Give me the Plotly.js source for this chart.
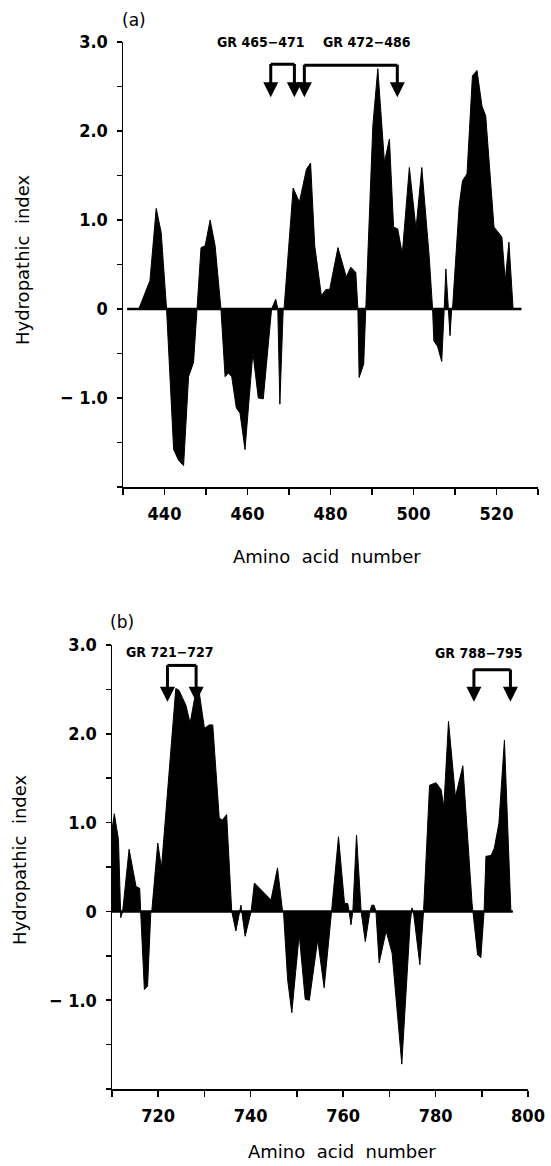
<!DOCTYPE html>
<html>
<head>
<meta charset="utf-8">
<script src="https://cdn.plot.ly/plotly-3.0.1.min.js"></script>
<style>
  html, body { margin: 0; padding: 0; background: #ffffff; }
  #chart { width: 551px; height: 1166px; }
</style>
</head>
<body>
<div id="chart"></div>
<script>
// ---------- Panel (a) data: residue number vs hydropathic index ----------
var aResidue = [431, 433.8, 436.5, 438, 439.2, 440.5, 442.2, 443.4, 444.6, 445.8, 447, 447.8, 448.8, 449.8, 451, 452.2, 453.6, 454.6, 455.4, 456.2, 457.3, 458.2, 459.4, 461.3, 462.6, 463.8, 465.8, 466.8, 467.3, 467.8, 468.6, 468.8, 471, 472.5, 474.2, 475.2, 476.2, 477.8, 478.9, 479.8, 481.8, 483.8, 484.9, 486.1, 486.6, 486.9, 488, 488.5, 490.2, 491.4, 493, 494.2, 495.2, 496.2, 497.3, 499, 500.6, 502, 503.8, 504.6, 504.9, 505.8, 506.8, 507.4, 507.8, 508.4, 508.8, 509.2, 509.4, 511, 511.8, 512.9, 514.2, 515.3, 516.5, 517.4, 519.4, 521.3, 522.1, 523, 524, 526];
var aIndex = [0, 0, 0.32, 1.13, 0.86, 0, -1.58, -1.70, -1.76, -0.76, -0.6, 0, 0.69, 0.71, 1.0, 0.71, 0, -0.76, -0.72, -0.76, -1.11, -1.17, -1.58, -0.49, -1.0, -1.01, 0, 0.11, 0, -1.07, 0, 0, 1.36, 1.2, 1.57, 1.64, 0.71, 0.15, 0.22, 0.22, 0.69, 0.36, 0.47, 0.41, 0, -0.77, -0.62, 0, 2.06, 2.70, 1.65, 1.91, 0.92, 0.90, 0.62, 1.59, 0.90, 1.59, 0.58, 0, -0.36, -0.42, -0.59, 0, 0.45, 0, -0.30, 0, 0, 1.16, 1.44, 1.52, 2.62, 2.68, 2.28, 2.17, 0.92, 0.81, 0.32, 0.75, 0, 0];

// ---------- Panel (b) data ----------
var bResidue = [710, 710.5, 711.4, 711.9, 712.3, 713.7, 715.2, 716, 716.2, 717, 717.7, 718.4, 718.6, 719.9, 720.7, 723.8, 724.5, 726, 726.9, 727.8, 728.7, 730, 731, 731.8, 733.2, 733.9, 734.8, 735.9, 736.8, 737.9, 738.8, 740.1, 740.8, 742.6, 744.4, 745.8, 746.9, 747.1, 748, 748.9, 750.5, 751.8, 752.7, 754.5, 755.9, 757.5, 759, 760.3, 761, 761.3, 761.7, 762.1, 762.9, 763.9, 764.8, 765.8, 766.2, 766.7, 767.1, 767.8, 769.3, 770.6, 772.7, 774.5, 774.9, 775.2, 776.6, 777.4, 778.7, 780.1, 781.2, 781.8, 782.8, 784.3, 785.9, 787.9, 788.1, 789.1, 789.8, 790.5, 790.9, 792, 792.7, 793.7, 794.9, 796.3, 796.7];
var bIndex = [0.92, 1.10, 0.81, -0.07, 0, 0.70, 0.28, 0.26, 0, -0.88, -0.84, 0, 0, 0.77, 0.49, 2.51, 2.49, 2.32, 2.12, 2.38, 2.53, 2.06, 2.10, 2.10, 1.05, 1.03, 1.09, 0, -0.22, 0.07, -0.28, 0, 0.32, 0.22, 0.13, 0.49, 0, 0, -0.77, -1.14, -0.26, -0.99, -1.0, -0.32, -0.86, 0, 0.84, 0.09, 0.09, 0, -0.15, 0, 0.86, 0, -0.34, 0, 0.07, 0.07, 0, -0.58, -0.22, -0.47, -1.72, -0.13, 0.04, 0, -0.60, 0, 1.42, 1.45, 1.37, 1.18, 2.14, 1.29, 1.64, 0.09, 0, -0.49, -0.52, 0, 0.62, 0.63, 0.71, 0.99, 1.93, 0, 0];

// ---------- Tick values / labels ----------
var aXTickVals = [430, 440, 450, 460, 470, 480, 490, 500, 510, 520, 530];
var aXTickText = ['', '440', '', '460', '', '480', '', '500', '', '520', ''];
var bXTickVals = [710, 720, 730, 740, 750, 760, 770, 780, 790, 800];
var bXTickText = ['', '720', '', '740', '', '760', '', '780', '', '800'];
var yTickVals = [-2, -1.5, -1, -0.5, 0, 0.5, 1, 1.5, 2, 2.5, 3];
var yTickText = ['', '', '\u2212 1.0', '', '0', '', '1.0', '', '2.0', '', '3.0'];

// ---------- Bracket annotations (GR fragments) ----------
var aBracketLabels = ['GR 465\u2212471', 'GR 472\u2212486'];
var aLabelX = [463.3, 488.7];
var aLabelY = [3.0, 3.0];
var aBracketLeft = [465.6, 473.7];
var aBracketRight = [471.3, 496.1];
var aBracketTop = [2.75, 2.74];
var aBracketTip = [2.38, 2.38];

var bBracketLabels = ['GR 721\u2212727', 'GR 788\u2212795'];
var bLabelX = [722.6, 789.3];
var bLabelY = [2.92, 2.91];
var bBracketLeft = [722.0, 788.3];
var bBracketRight = [728.2, 796.2];
var bBracketTop = [2.77, 2.72];
var bBracketTip = [2.36, 2.36];

// ---------- Traces ----------
function areaTrace(x, y, xa, ya) {
  return { x: x, y: y, xaxis: xa, yaxis: ya, type: 'scatter', mode: 'lines',
    fill: 'tozeroy', fillcolor: '#000000', line: { color: '#000000', width: 1 },
    hoverinfo: 'skip' };
}
function zeroTrace(x, xa, ya) {
  return { x: [x[0], x[x.length - 1]], y: [0, 0], xaxis: xa, yaxis: ya,
    type: 'scatter', mode: 'lines', line: { color: '#000000', width: 2.5 },
    hoverinfo: 'skip' };
}
var data = [
  areaTrace(aResidue, aIndex, 'x', 'y'),
  zeroTrace(aResidue, 'x', 'y'),
  areaTrace(bResidue, bIndex, 'x2', 'y2'),
  zeroTrace(bResidue, 'x2', 'y2')
];

// ---------- Shapes & annotations ----------
var shapes = [];
var annotations = [];
function addBrackets(labels, lx, ly, left, right, top, tip, xr, yr) {
  for (var i = 0; i < labels.length; i++) {
    annotations.push({ text: labels[i], x: lx[i], y: ly[i], xref: xr, yref: yr,
      showarrow: false, xanchor: 'center', yanchor: 'middle',
      font: { family: 'DejaVu Sans Condensed, DejaVu Sans', weight: 'bold', size: 14, color: '#000' } });
    shapes.push({ type: 'line', xref: xr, yref: yr, x0: left[i], x1: right[i], y0: top[i], y1: top[i],
      line: { color: '#000', width: 3 } });
    [left[i], right[i]].forEach(function (xx) {
      annotations.push({ x: xx, y: tip[i], ax: xx, ay: top[i] + 0.02, xref: xr, yref: yr,
        axref: xr, ayref: yr, text: '', showarrow: true, arrowhead: 2, arrowsize: 1,
        arrowwidth: 3, arrowcolor: '#000', standoff: 0 });
    });
  }
}
addBrackets(aBracketLabels, aLabelX, aLabelY, aBracketLeft, aBracketRight, aBracketTop, aBracketTip, 'x', 'y');
addBrackets(bBracketLabels, bLabelX, bLabelY, bBracketLeft, bBracketRight, bBracketTop, bBracketTip, 'x2', 'y2');

var W = 551, H = 1166;
function px(xp) { return xp / W; }
function py(yp) { return 1 - yp / H; }

var titleFont = { family: 'DejaVu Sans', size: 18, color: '#000' };
annotations.push({ text: '(a)', x: px(134), y: py(20), xref: 'paper', yref: 'paper', showarrow: false,
  xanchor: 'center', yanchor: 'middle', font: { family: 'DejaVu Sans', size: 17, color: '#000' } });
annotations.push({ text: '(b)', x: px(122), y: py(622), xref: 'paper', yref: 'paper', showarrow: false,
  xanchor: 'center', yanchor: 'middle', font: { family: 'DejaVu Sans', size: 17, color: '#000' } });
annotations.push({ text: 'Hydropathic\u00a0 index', x: px(22), y: py(260), xref: 'paper', yref: 'paper',
  showarrow: false, textangle: -90, xanchor: 'center', yanchor: 'middle', font: titleFont });
annotations.push({ text: 'Hydropathic\u00a0 index', x: px(19), y: py(860), xref: 'paper', yref: 'paper',
  showarrow: false, textangle: -90, xanchor: 'center', yanchor: 'middle', font: titleFont });
annotations.push({ text: 'Amino\u00a0 acid\u00a0 number', x: px(327), y: py(557), xref: 'paper', yref: 'paper',
  showarrow: false, xanchor: 'center', yanchor: 'middle', font: titleFont });
annotations.push({ text: 'Amino\u00a0 acid\u00a0 number', x: px(342), y: py(1164), xref: 'paper', yref: 'paper',
  showarrow: false, xanchor: 'center', yanchor: 'bottom', font: titleFont });

var tickFont = { family: 'DejaVu Sans Condensed, DejaVu Sans', weight: 'bold', size: 18, color: '#000' };
function xAxis(domain, range, tv, tt, anchor) {
  return { domain: domain, range: range, anchor: anchor, tickmode: 'array', tickvals: tv, ticktext: tt,
    ticks: 'outside', ticklen: 6, tickwidth: 1.5, tickcolor: '#000', showline: true, linewidth: 1.5,
    linecolor: '#000', showgrid: false, zeroline: false, tickfont: tickFont, fixedrange: true,
    ticklabelstandoff: 4 };
}
function yAxis(domain, anchor) {
  return { domain: domain, range: [-2, 3], anchor: anchor, tickmode: 'array', tickvals: yTickVals,
    ticktext: yTickText, ticks: 'outside', ticklen: 5, tickwidth: 1.5, tickcolor: '#000', showline: true,
    linewidth: 1.5, linecolor: '#000', showgrid: false, zeroline: false, tickfont: tickFont,
    fixedrange: true, ticklabelstandoff: 5 };
}

var layout = {
  width: W, height: H,
  margin: { l: 0, r: 0, t: 0, b: 0 },
  paper_bgcolor: '#ffffff', plot_bgcolor: '#ffffff',
  showlegend: false,
  xaxis: xAxis([px(123), px(538)], [430, 530], aXTickVals, aXTickText, 'y'),
  yaxis: yAxis([py(487), py(42)], 'x'),
  xaxis2: xAxis([px(112), px(528)], [710, 800], bXTickVals, bXTickText, 'y2'),
  yaxis2: yAxis([py(1089), py(645)], 'x2'),
  shapes: shapes,
  annotations: annotations
};

Plotly.newPlot('chart', data, layout, { displayModeBar: false, staticPlot: true });
</script>
</body>
</html>
